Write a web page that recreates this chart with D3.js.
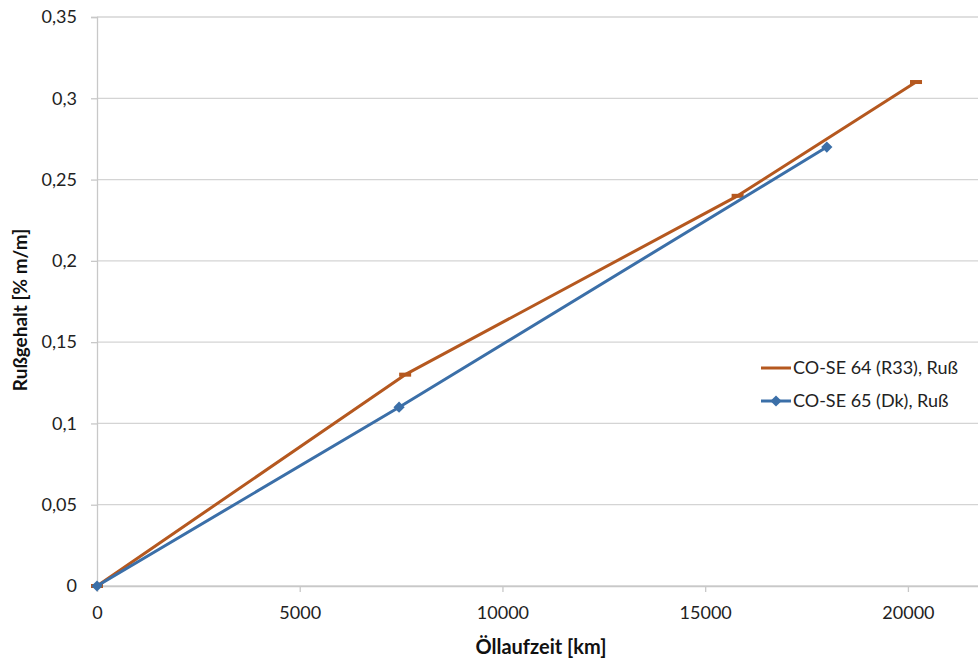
<!DOCTYPE html>
<html><head><meta charset="utf-8">
<script src="https://cdn.jsdelivr.net/npm/d3@7"></script>
<style>body{margin:0;background:#fff}svg{display:block}</style>
</head><body>
<svg id="c" width="978" height="661"></svg>
<script>
const xTicks = [0, 5000, 10000, 15000, 20000];
const yTicks = [0, 0.05, 0.1, 0.15, 0.2, 0.25, 0.3, 0.35];
const seriesNames = ["CO-SE 64 (R33), Ruß", "CO-SE 65 (Dk), Ruß"];
const s64x = [0, 7600, 15800, 20200];
const s64y = [0, 0.13, 0.24, 0.31];
const s65x = [0, 7450, 18000];
const s65y = [0, 0.11, 0.27];
const colors = ["#B5581F", "#3B6FA8"];

const svg = d3.select("#c");
const font = "Lato, 'Open Sans', sans-serif";
const x = d3.scaleLinear().domain([0, 22000]).range([97, 989]);
const y = d3.scaleLinear().domain([0, 0.35]).range([586, 17]);
const fmt = d => String(d).replace(".", ",");

// gridlines
svg.append("g").selectAll("line").data(yTicks).join("line")
  .attr("x1", 97).attr("x2", 978).attr("y1", d => y(d)).attr("y2", d => y(d))
  .attr("stroke", "#d4d4d4").attr("stroke-width", 1.3);

// y axis
const ya = svg.append("g").attr("transform", "translate(97,0)")
  .call(d3.axisLeft(y).tickValues(yTicks).tickFormat(fmt).tickSize(6).tickPadding(14));
ya.select(".domain").attr("stroke", "#c8c8c8").attr("stroke-width", 1.3);
ya.selectAll(".tick line").attr("stroke", "#c8c8c8").attr("stroke-width", 1.3);
ya.selectAll("text").attr("font-family", font).attr("font-size", 18).attr("fill", "#222");

// x axis
const xa = svg.append("g").attr("transform", "translate(0,586)")
  .call(d3.axisBottom(x).tickValues(xTicks).tickFormat(d => d).tickSize(6).tickPadding(14));
xa.select(".domain").attr("stroke", "#c8c8c8").attr("stroke-width", 1.3);
xa.selectAll(".tick line").attr("stroke", "#c8c8c8").attr("stroke-width", 1.3);
xa.selectAll("text").attr("font-family", font).attr("font-size", 18).attr("fill", "#222");

// titles
svg.append("text").attr("x", 541).attr("y", 654).attr("text-anchor", "middle")
  .attr("font-family", font).attr("font-weight", "bold").attr("font-size", 20).attr("fill", "#111")
  .text("Öllaufzeit [km]");
svg.append("text").attr("transform", "translate(27,310) rotate(-90)").attr("text-anchor", "middle")
  .attr("font-family", font).attr("font-weight", "bold").attr("font-size", 19).attr("fill", "#111")
  .text("Rußgehalt [% m/m]");

const line = d3.line().x(d => x(d[0])).y(d => y(d[1]));
const d64 = s64x.map((v, i) => [v, s64y[i]]);
const d65 = s65x.map((v, i) => [v, s65y[i]]);

svg.append("path").datum(d64).attr("d", line).attr("fill", "none")
  .attr("stroke", colors[0]).attr("stroke-width", 3).attr("stroke-linejoin", "round");
svg.append("g").selectAll("rect").data(d64).join("rect")
  .attr("x", d => x(d[0]) - 6).attr("y", d => y(d[1]) - 2).attr("width", 12).attr("height", 4)
  .attr("fill", colors[0]);

svg.append("path").datum(d65).attr("d", line).attr("fill", "none")
  .attr("stroke", colors[1]).attr("stroke-width", 3).attr("stroke-linejoin", "round");
const diamond = d3.symbol().type(d3.symbolDiamond2).size(80);
svg.append("g").selectAll("path").data(d65).join("path")
  .attr("transform", d => `translate(${x(d[0])},${y(d[1])})`)
  .attr("d", diamond).attr("fill", colors[1]);

// legend
const lg = svg.append("g");
seriesNames.forEach((n, i) => {
  const yy = 368 + i * 33;
  lg.append("line").attr("x1", 761).attr("x2", 791).attr("y1", yy).attr("y2", yy)
    .attr("stroke", colors[i]).attr("stroke-width", 3);
  if (i === 1) lg.append("path").attr("transform", `translate(776,${yy})`).attr("d", diamond).attr("fill", colors[1]);
  lg.append("text").attr("x", 793).attr("y", yy).attr("dy", "0.35em")
    .attr("font-family", font).attr("font-size", 18).attr("fill", "#222").text(n);
});
</script>
</body></html>
